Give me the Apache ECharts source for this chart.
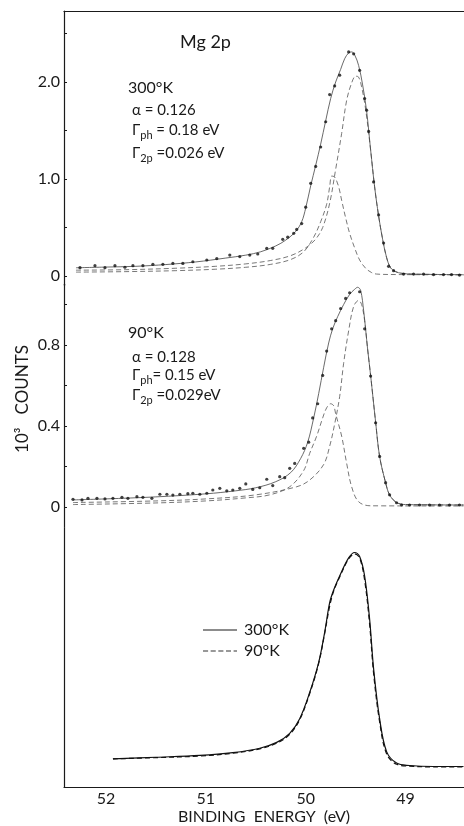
<!DOCTYPE html>
<html><head><meta charset="utf-8">
<script src="https://cdn.jsdelivr.net/npm/echarts@6/dist/echarts.min.js"></script>
<style>html,body{margin:0;padding:0;background:#fff}#c{width:464px;height:826px}</style>
</head><body><div id="c"></div>
<script>
// ---- data (binding energy eV, counts x10^3) ----
const xTickLabels = [52, 51, 50, 49];
const topTickLabels = [0, 1, 2];
const midTickLabels = [0, 0.4, 0.8];

const p300Points = [[52.26,.086],[52.11,.106],[52.01,.086],[51.91,.106],[51.81,.09],[51.73,.106],[51.63,.106],[51.53,.12],[51.43,.12],[51.33,.13],[51.23,.13],[51.13,.147],[50.99,.165],[50.89,.18],[50.76,.216],[50.66,.20],[50.56,.216],[50.48,.227],[50.39,.285],[50.33,.285],[50.23,.378],[50.18,.40],[50.12,.44],[50.09,.48],[50.04,.54],[50.00,.71],[49.95,.955],[49.90,1.13],[49.85,1.33],[49.80,1.59],[49.76,1.87],[49.71,1.96],[49.66,2.07],[49.57,2.31],[49.52,2.29],[49.46,2.12],[49.41,1.83],[49.39,1.71],[49.37,1.49],[49.32,.97],[49.27,.63],[49.22,.34],[49.17,.10],[49.12,.055],[49.02,.02],[48.92,.02],[48.82,.02],[48.72,.015],[48.62,.015],[48.54,.015],[48.46,.01]];
const p300Fit = [[52.30,.085],[52.0,.092],[51.7,.10],[51.4,.118],[51.1,.145],[50.8,.185],[50.6,.215],[50.45,.25],[50.3,.31],[50.2,.37],[50.1,.46],[50.04,.56],[50.0,.70],[49.95,.93],[49.90,1.14],[49.85,1.36],[49.80,1.6],[49.75,1.83],[49.70,2.0],[49.65,2.13],[49.61,2.24],[49.57,2.3],[49.54,2.31],[49.51,2.28],[49.47,2.17],[49.43,1.97],[49.39,1.7],[49.35,1.3],[49.31,.92],[49.27,.62],[49.23,.38],[49.19,.19],[49.15,.085],[49.10,.045],[49.04,.028],[48.95,.02],[48.7,.016],[48.42,.013]];
const p300Half = [[52.30,.04],[51.8,.045],[51.3,.055],[50.9,.07],[50.6,.09],[50.35,.12],[50.15,.17],[50.02,.25],[49.92,.40],[49.85,.56],[49.79,.74],[49.76,.92],[49.74,1.03],[49.71,1.02],[49.67,.92],[49.64,.78],[49.6,.6],[49.56,.44],[49.51,.29],[49.46,.165],[49.4,.08],[49.34,.035],[49.29,.02],[49.1,.015],[48.42,.012]];
const p300ThreeHalf = [[52.30,.06],[51.8,.065],[51.3,.08],[50.9,.10],[50.6,.125],[50.35,.16],[50.15,.21],[50.0,.29],[49.9,.38],[49.83,.5],[49.76,.75],[49.70,1.1],[49.64,1.47],[49.59,1.81],[49.54,1.99],[49.50,2.06],[49.47,2.05],[49.44,1.95],[49.4,1.72],[49.35,1.3],[49.31,.92],[49.27,.62],[49.23,.38],[49.19,.19],[49.15,.085],[49.10,.045],[49.04,.028],[48.95,.02],[48.7,.016],[48.42,.013]];

const p90Points = [[52.33,.038],[52.24,.035],[52.18,.043],[52.09,.043],[52.01,.04],[51.93,.043],[51.84,.048],[51.78,.043],[51.69,.051],[51.63,.048],[51.54,.043],[51.46,.063],[51.39,.063],[51.33,.059],[51.26,.063],[51.18,.066],[51.13,.068],[51.06,.063],[50.99,.068],[50.93,.084],[50.86,.092],[50.79,.08],[50.73,.084],[50.66,.092],[50.60,.114],[50.53,.087],[50.46,.095],[50.39,.137],[50.33,.106],[50.26,.15],[50.21,.145],[50.16,.191],[50.11,.215],[50.02,.29],[49.97,.32],[49.93,.44],[49.88,.51],[49.83,.65],[49.79,.77],[49.74,.88],[49.70,.92],[49.65,.98],[49.60,1.03],[49.56,1.058],[49.46,1.063],[49.41,.88],[49.35,.647],[49.30,.416],[49.26,.25],[49.20,.12],[49.16,.06],[49.09,.021],[49.04,.01],[48.96,.01],[48.86,.01],[48.76,.01],[48.66,.01],[48.56,.01],[48.46,.01]];
const p90Fit = [[52.33,.035],[52.0,.04],[51.5,.05],[51.0,.065],[50.7,.08],[50.5,.095],[50.3,.125],[50.15,.17],[50.05,.24],[49.98,.32],[49.92,.44],[49.87,.56],[49.82,.69],[49.77,.81],[49.73,.88],[49.68,.94],[49.62,1.0],[49.56,1.05],[49.51,1.075],[49.48,1.085],[49.45,1.07],[49.42,.97],[49.38,.78],[49.35,.65],[49.30,.42],[49.26,.25],[49.20,.12],[49.16,.06],[49.09,.022],[49.0,.012],[48.42,.01]];
const p90Half = [[52.33,.012],[51.5,.02],[51.0,.03],[50.6,.045],[50.36,.06],[50.16,.10],[50.02,.18],[49.96,.265],[49.89,.35],[49.83,.44],[49.79,.49],[49.75,.51],[49.72,.5],[49.70,.46],[49.64,.35],[49.59,.216],[49.54,.10],[49.47,.026],[49.35,.006],[48.42,.005]];
const p90ThreeHalf = [[52.33,.022],[51.5,.03],[51.0,.04],[50.5,.06],[50.09,.10],[49.96,.133],[49.82,.21],[49.76,.30],[49.71,.41],[49.66,.545],[49.62,.71],[49.57,.87],[49.52,.99],[49.47,1.02],[49.44,1.0],[49.41,.92],[49.38,.78],[49.35,.65],[49.30,.42],[49.26,.25],[49.20,.12],[49.16,.06],[49.09,.022],[49.0,.012],[48.42,.01]];

const cmp300 = [[51.93,.14],[51.5,.148],[51.06,.157],[50.73,.171],[50.46,.193],[50.29,.222],[50.16,.267],[50.06,.34],[49.96,.47],[49.87,.62],[49.81,.77],[49.76,.917],[49.72,.98],[49.66,1.05],[49.57,1.14],[49.51,1.167],[49.46,1.147],[49.41,1.05],[49.36,.835],[49.32,.588],[49.26,.34],[49.19,.176],[49.09,.119],[48.96,.107],[48.72,.102],[48.42,.102]];
const cmp90 = [[51.93,.14],[51.5,.146],[51.06,.154],[50.73,.168],[50.46,.19],[50.29,.218],[50.16,.262],[50.06,.335],[49.96,.465],[49.87,.615],[49.81,.765],[49.76,.9],[49.72,.975],[49.66,1.045],[49.57,1.135],[49.51,1.16],[49.46,1.14],[49.41,1.03],[49.36,.81],[49.32,.565],[49.26,.325],[49.19,.165],[49.09,.113],[48.96,.104],[48.72,.1],[48.42,.1]];

// ---- layout ----
const FONT = 'Lato, "DejaVu Sans", sans-serif';
const INK = '#1a1a1a';
const X_MIN = 48.415, X_MAX = 52.42;
const LEFT = 64;
const g1 = {zero: 276, ppu: 97, min: -0.1, max: 2.73};
const g2 = {zero: 507, ppu: 202.5, min: -0.1, max: 1.1};
const g3 = {zero: 789, ppu: 202.5, min: 0, max: 1.29};
function gridOf(g){ return {left: LEFT, right: 0, top: g.zero - g.max*g.ppu, height: (g.max-g.min)*g.ppu}; }

const chart = echarts.init(document.getElementById('c'), null, {renderer: 'canvas'});

function xAx(i, show, pos){
  return {type:'value', gridIndex:i, inverse:true, min:X_MIN, max:X_MAX, position: pos||'bottom',
    axisLine:{show:show, onZero:false, lineStyle:{color:INK, width:1.2}},
    axisTick:{show:false}, splitLine:{show:false},
    axisLabel:{show: i===2, customValues: xTickLabels, color:INK, fontFamily:FONT, fontSize:16, margin:4,
      formatter: v => String(Math.round(v))},
    name: i===2 ? 'BINDING  ENERGY  (eV)' : '', nameLocation:'middle', nameGap:22,
    nameTextStyle:{color:INK, fontFamily:FONT, fontSize:16}};
}
function yAx(i, g, ticks, labels){
  return {type:'value', gridIndex:i, min:g.min, max:g.max,
    axisLine:{show:true, lineStyle:{color:INK, width:1.2}},
    axisTick:{show: !!ticks, inside:true, length:3, customValues: ticks || [], lineStyle:{color:INK}},
    splitLine:{show:false},
    axisLabel:{show: !!labels, customValues: labels || [], color:INK, fontFamily:FONT, fontSize:16, margin:4,
      formatter: v => v === 0 ? '0' : v.toFixed(1)}};
}
const dotted = (data, xi, yi) => ({type:'scatter', xAxisIndex:xi, yAxisIndex:yi, data, symbol:'circle', symbolSize:3.2,
  itemStyle:{color:'#111'}, silent:true, clip:false, z:5});
const line = (data, xi, yi, dash, w, col) => ({type:'line', xAxisIndex:xi, yAxisIndex:yi, data, smooth:0.35, showSymbol:false,
  symbol:'none', clip:false, silent:true, lineStyle:{color:col||'#555', width:w||0.8, type: dash ? [5,3] : 'solid'}, z:3});

const sub = {fontFamily:FONT, fontSize:11, color:INK, verticalAlign:'bottom', lineHeight:22, padding:[9,0,0,0]};
const main = {fontFamily:FONT, fontSize:15, color:INK, lineHeight:22, verticalAlign:'middle'};
function txt(x, y, text, size){
  return {type:'text', left:x, top:y, style:{text, fill:INK, font: (size||15)+'px '+FONT, textVerticalAlign:'middle'}};
}
function richTxt(x, y, text){
  return {type:'text', x, y, style:{text, rich:{m:main, s:sub}, fill:INK, font:'15px '+FONT, verticalAlign:'middle'}};
}

chart.setOption({
  animation:false,
  grid:[gridOf(g1), gridOf(g2), gridOf(g3)],
  xAxis:[xAx(0,true,'top'), xAx(1,false), xAx(2,true)],
  yAxis:[yAx(0,g1,[0,0.5,1,1.5,2,2.5],topTickLabels), yAx(1,g2,[0,0.2,0.4,0.6,0.8,1.0],midTickLabels), yAx(2,g3,null,null)],
  legend:{show:true, orient:'vertical', left:198, top:617, itemWidth:34, itemHeight:10, itemGap:5,
    textStyle:{color:INK, fontFamily:FONT, fontSize:16, padding:[0,0,0,2]},
    data:[{name:'300°K', icon:'path://M0,0 L40,0 L40,1 L0,1 Z', itemStyle:{color:INK}},
          {name:'90°K', icon:'path://M0,0 L6,0 L6,1 L0,1 Z M9,0 L15,0 L15,1 L9,1 Z M18,0 L24,0 L24,1 L18,1 Z M27,0 L33,0 L33,1 L27,1 Z M36,0 L40,0 L40,1 L36,1 Z', itemStyle:{color:'#333'}}]},
  series:[
    line(p300Half,0,0,true), line(p300ThreeHalf,0,0,true), line(p300Fit,0,0,false,0.8,'#444'), dotted(p300Points,0,0),
    line(p90Half,1,1,true), line(p90ThreeHalf,1,1,true), line(p90Fit,1,1,false,0.8,'#444'), dotted(p90Points,1,1),
    Object.assign(line(cmp300,2,2,false,1.2,'#111'), {name:'300°K'}),
    Object.assign(line(cmp90,2,2,true,1.2,'#111'), {name:'90°K'})
  ],
  graphic:[
    txt(180, 33, 'Mg 2p', 18),
    txt(128, 80, '300°K', 16),
    richTxt(132, 110, '{m|α = 0.126}'),
    richTxt(132, 130, '{m|Γ}{s|ph}{m| = 0.18 eV}'),
    richTxt(132, 153, '{m|Γ}{s|2p}{m| =0.026 eV}'),
    txt(128, 325, '90°K', 16),
    richTxt(132, 357, '{m|α = 0.128}'),
    richTxt(132, 375, '{m|Γ}{s|ph}{m|= 0.15 eV}'),
    richTxt(132, 395, '{m|Γ}{s|2p}{m| =0.029eV}'),
    {type:'text', x:23, y:399, rotation:Math.PI/2, style:{text:'10³   COUNTS', fill:INK, font:'17px '+FONT, align:'center', verticalAlign:'middle'}}
  ]
});
</script></body></html>
